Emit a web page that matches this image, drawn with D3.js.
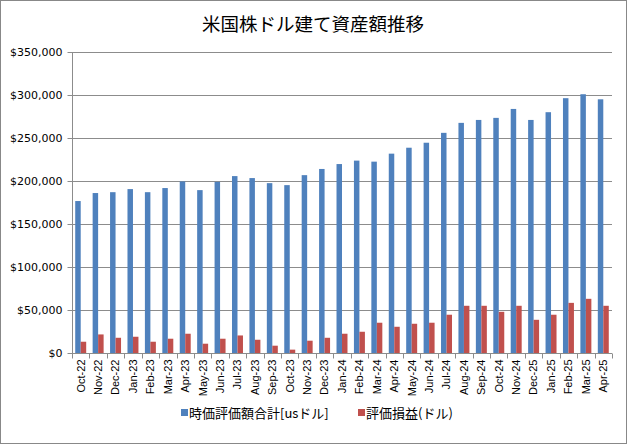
<!DOCTYPE html>
<html><head><meta charset="utf-8">
<script src="https://cdn.jsdelivr.net/npm/d3@7"></script>
<style>body{margin:0;background:#fff}svg{display:block}</style>
</head><body>
<script>
const categories = ["Oct-22","Nov-22","Dec-22","Jan-23","Feb-23","Mar-23","Apr-23","May-23","Jun-23","Jul-23","Aug-23","Sep-23","Oct-23","Nov-23","Dec-23","Jan-24","Feb-24","Mar-24","Apr-24","May-24","Jun-24","Jul-24","Aug-24","Sep-24","Oct-24","Nov-24","Dec-25","Jan-25","Feb-25","Mar-25","Apr-25"];
const marketValue = [176700,186000,187000,190600,187000,191800,199500,189400,199000,205700,203400,197500,195200,206800,214000,219700,223700,222500,231800,238700,244500,256000,267600,271000,273400,283800,271000,280000,296300,300900,295000];
const unrealizedPL = [13100,21600,17700,18900,13100,16600,22400,10800,16600,20400,15400,8500,3900,14300,17700,22400,24700,35200,30500,34000,35200,44500,54900,54900,47900,54900,38600,44500,58300,63000,54900];
const yTicks = [0,50000,100000,150000,200000,250000,300000,350000];
const seriesNames = ["時価評価額合計[usドル]","評価損益(ドル)"];
const title = "米国株ドル建て資産額推移";

(function(){
const W = 627, H = 444;
const colors = ["#4F81BD","#C0504D"];
const svg = d3.select("body").append("svg").attr("width",W).attr("height",H);
svg.append("rect").attr("x",0.5).attr("y",0.5).attr("width",W-1).attr("height",H-1)
  .attr("fill","#fff").attr("stroke","#888");

const pl = 72, pr = 612, pt = 52, pb = 353;
const x = d3.scaleBand().domain(categories).range([pl,pr]).paddingInner(0.37).paddingOuter(0.185);
const xOuter = d3.scaleBand().domain(categories).range([pl,pr]);
const xs = d3.scaleBand().domain([0,1]).range([0,x.bandwidth()]);
const y = d3.scaleLinear().domain([0,350000]).range([pb,pt]);

svg.append("g").selectAll("line").data(yTicks.slice(1)).join("line")
  .attr("x1",pl).attr("x2",pr).attr("y1",d=>Math.round(y(d))+0.5).attr("y2",d=>Math.round(y(d))+0.5)
  .attr("stroke","#8c8c8c").attr("stroke-width",1);

const series = [marketValue, unrealizedPL];
series.forEach((vals,si)=>{
  svg.append("g").selectAll("rect").data(vals).join("rect")
    .attr("x",(d,i)=>x(categories[i])+xs(si))
    .attr("width",xs.bandwidth())
    .attr("y",d=>y(d)).attr("height",d=>y(0)-y(d))
    .attr("fill",colors[si]);
});

const yAxis = d3.axisLeft(y).tickValues(yTicks).tickSize(5).tickPadding(5)
  .tickFormat(d=>"$"+d3.format(",")(d));
const gy = svg.append("g").attr("transform",`translate(${pl+0.5},0)`).call(yAxis);
gy.select(".domain").attr("stroke","#8c8c8c").attr("d",`M0,${pt}V${pb}`);
gy.selectAll(".tick line").attr("stroke","#8c8c8c");
gy.selectAll(".tick").attr("transform",d=>`translate(0,${Math.round(y(d))+0.5})`);
gy.selectAll("text").attr("font-family","DejaVu Sans, sans-serif").attr("font-size",11).attr("fill","#000");

const gx = svg.append("g").attr("transform",`translate(0,${pb+0.5})`);
gx.append("line").attr("x1",pl).attr("x2",pr).attr("stroke","#8c8c8c");
const bounds = categories.map(c=>xOuter(c)).concat([pr]);
gx.selectAll("line.t").data(bounds).join("line").attr("class","t")
  .attr("x1",d=>Math.round(d)+0.5).attr("x2",d=>Math.round(d)+0.5).attr("y1",0).attr("y2",5).attr("stroke","#8c8c8c");
gx.selectAll("text").data(categories).join("text")
  .attr("transform",d=>`translate(${xOuter(d)+xOuter.bandwidth()/2},6) rotate(-90)`)
  .attr("text-anchor","end").attr("dy","0.35em")
  .attr("font-family","Liberation Sans, Arial, sans-serif").attr("font-size",11).attr("fill","#000")
  .text(d=>d);

svg.append("text").attr("x",313).attr("y",31).attr("text-anchor","middle")
  .attr("font-family","Noto Sans CJK JP, sans-serif").attr("font-size",18.5).attr("fill","#000")
  .text(title);

const legendX = [181, 358];
seriesNames.forEach((n,i)=>{
  const g = svg.append("g").attr("transform",`translate(${legendX[i]},413)`);
  g.append("rect").attr("x",0).attr("y",-4).attr("width",7).attr("height",7).attr("fill",colors[i]);
  g.append("text").attr("x",8).attr("y",0).attr("dy","0.35em")
    .attr("font-family","Noto Sans CJK JP, sans-serif").attr("font-size",13).attr("fill","#000").text(n);
});
})();
</script>
</body></html>
